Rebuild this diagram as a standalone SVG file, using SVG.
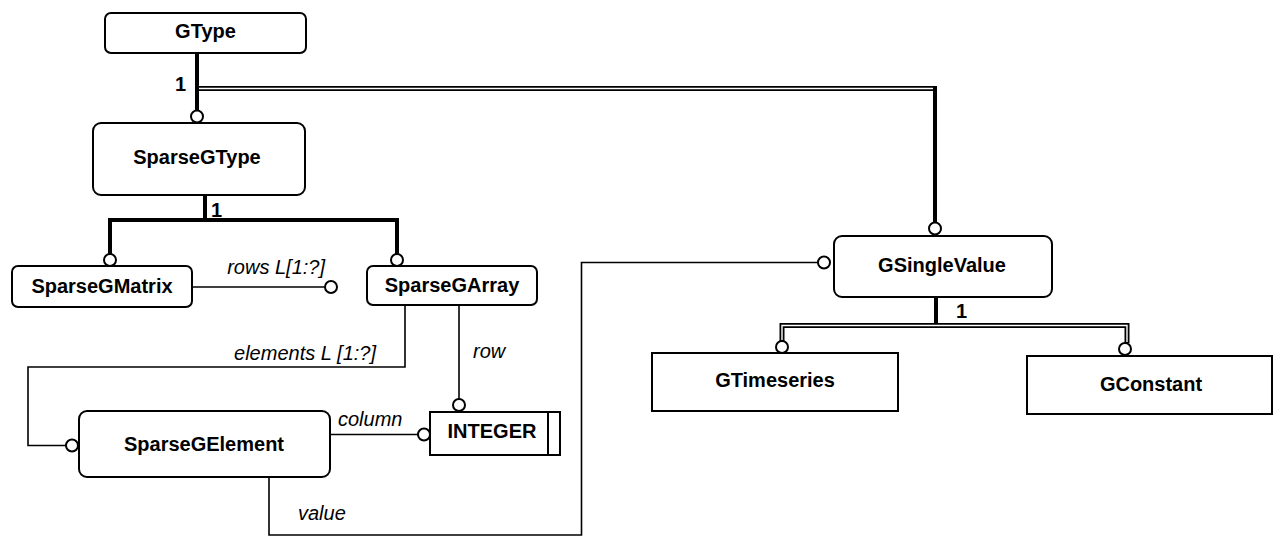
<svg xmlns="http://www.w3.org/2000/svg" width="1274" height="537" viewBox="0 0 1274 537">
<style>
.box{fill:#fff;stroke:#000;stroke-width:2}
.lbl{font-family:"Liberation Sans",Arial,sans-serif;font-weight:bold;font-size:20px;fill:#000;text-anchor:middle}
.it{font-family:"Liberation Sans",Arial,sans-serif;font-style:italic;font-size:20px;fill:#000}
.card{font-family:"Liberation Sans",Arial,sans-serif;font-weight:bold;font-size:20px;fill:#000}
.thin{fill:none;stroke:#000;stroke-width:1.6}
.thick{fill:none;stroke:#000;stroke-width:4}
.dblo{fill:none;stroke:#000;stroke-width:5}
.dbli{fill:none;stroke:#fff;stroke-width:1.4}
.ring{fill:#fff;stroke:#000;stroke-width:2}
</style>
<rect width="1274" height="537" fill="#fff"/>
<g id="connectors">
  <!-- GType to SparseGType -->
  <path class="thick" d="M197,53 V111"/>
  <!-- GType to GSingleValue (double line) -->
  <path class="dblo" d="M199,88.5 H935"/>
  <path class="dbli" d="M199,88.5 H933"/>
  <path class="thick" d="M935,86 V223"/>
  <text class="card" x="175" y="91">1</text>
  <circle class="ring" cx="197" cy="116.5" r="6"/>
  <circle class="ring" cx="935" cy="228.5" r="6"/>
  <!-- SparseGType subtypes -->
  <path class="thick" d="M205,195 V220"/>
  <path class="thick" d="M110,255 V220 H397 V255"/>
  <text class="card" x="211" y="217">1</text>
  <circle class="ring" cx="110" cy="260" r="6"/>
  <circle class="ring" cx="397" cy="260" r="6"/>
  <!-- rows -->
  <path class="thin" d="M192,287 H325"/>
  <circle class="ring" cx="331" cy="287" r="6"/>
  <text class="it" x="325" y="274" text-anchor="end">rows L[1:?]</text>
  <!-- elements -->
  <path class="thin" d="M405,305 V367 H28 V445.5 H66"/>
  <circle class="ring" cx="72" cy="445.5" r="6"/>
  <text class="it" x="376" y="360" text-anchor="end">elements L [1:?]</text>
  <!-- row -->
  <path class="thin" d="M459,305 V399"/>
  <circle class="ring" cx="459" cy="405" r="6"/>
  <text class="it" x="473" y="358">row</text>
  <!-- column -->
  <path class="thin" d="M330,434.5 H418"/>
  <circle class="ring" cx="424" cy="434.5" r="6"/>
  <text class="it" x="338" y="426">column</text>
  <!-- value -->
  <path class="thin" d="M269,477 V535 H581.5 V262.5 H818"/>
  <circle class="ring" cx="824" cy="262.5" r="6"/>
  <text class="it" x="298" y="520">value</text>
  <!-- GSingleValue subtypes -->
  <path class="thick" d="M936,297 V325"/>
  <path class="dblo" d="M782,341 V325.5 H1127 V343"/>
  <path class="dbli" d="M782,340 V325.5 H1127 V342"/>
  <text class="card" x="956" y="318">1</text>
  <circle class="ring" cx="782" cy="347" r="6"/>
  <circle class="ring" cx="1125" cy="349" r="6"/>
</g>
<g id="GType">
  <rect class="box" x="105" y="13" width="201" height="40" rx="6"/>
  <text class="lbl" x="205.5" y="38">GType</text>
</g>
<g id="SparseGType">
  <rect class="box" x="93" y="123" width="212" height="72" rx="8"/>
  <text class="lbl" x="197" y="164">SparseGType</text>
</g>
<g id="SparseGMatrix">
  <rect class="box" x="12" y="266" width="180" height="41" rx="6"/>
  <text class="lbl" x="102" y="293">SparseGMatrix</text>
</g>
<g id="SparseGArray">
  <rect class="box" x="367" y="266" width="170" height="39" rx="6"/>
  <text class="lbl" x="452" y="292">SparseGArray</text>
</g>
<g id="SparseGElement">
  <rect class="box" x="79" y="411" width="251" height="66" rx="8"/>
  <text class="lbl" x="204" y="451">SparseGElement</text>
</g>
<g id="INTEGER">
  <rect class="box" x="430" y="412" width="130" height="43"/>
  <line x1="548" y1="412" x2="548" y2="455" stroke="#000" stroke-width="2"/>
  <text class="lbl" x="492" y="438">INTEGER</text>
</g>
<g id="GSingleValue">
  <rect class="box" x="834" y="236" width="218" height="61" rx="8"/>
  <text class="lbl" x="942" y="272">GSingleValue</text>
</g>
<g id="GTimeseries">
  <rect class="box" x="652" y="353" width="246" height="58"/>
  <text class="lbl" x="775" y="387">GTimeseries</text>
</g>
<g id="GConstant">
  <rect class="box" x="1027" y="356" width="245" height="58"/>
  <text class="lbl" x="1151" y="391">GConstant</text>
</g>
</svg>
